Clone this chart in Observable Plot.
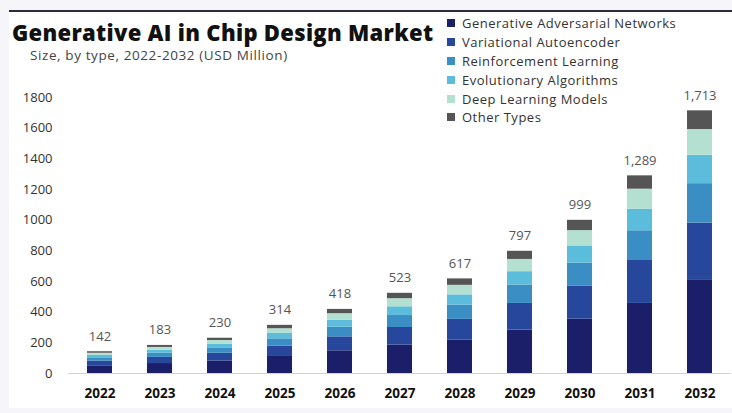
<!DOCTYPE html>
<html>
<head>
<meta charset="utf-8">
<script src="https://cdn.jsdelivr.net/npm/d3@7"></script>
<script src="https://cdn.jsdelivr.net/npm/@observablehq/plot@0.6"></script>
<style>
  html, body { margin: 0; padding: 0; background: #f5f5fa; }
  #wrap { position: relative; width: 732px; height: 413px; overflow: hidden; font-family: "Open Sans", sans-serif; }
  #panel { position: absolute; left: 9px; top: 10px; right: 0; bottom: 5px; background: #fff; border-top: 2px solid #2b2b3d; }
  #chart { position: absolute; left: 0; top: 0; }
  #title { position: absolute; left: 12px; top: 17px; font-size: 22px; font-weight: 800; color: #111; letter-spacing: 0.3px; white-space: nowrap; }
  #subtitle { position: absolute; left: 30px; top: 46px; font-size: 13.5px; letter-spacing: 0.6px; color: #444; white-space: nowrap; }
  #legend { position: absolute; left: 447px; top: 14px; font-size: 13px; letter-spacing: 0.5px; color: #333; }
  #legend .row { display: flex; align-items: center; height: 18.8px; white-space: nowrap; }
  #legend .sw { width: 8px; height: 8px; margin-right: 7px; }
</style>
</head>
<body>
<div id="wrap">
  <div id="panel"></div>
  <div id="chart"></div>
  <div id="title">Generative AI in Chip Design Market</div>
  <div id="subtitle">Size, by type, 2022-2032 (USD Million)</div>
  <div id="legend"></div>
</div>
<script>
const years = ["2022","2023","2024","2025","2026","2027","2028","2029","2030","2031","2032"];
const types = ["Generative Adversarial Networks","Variational Autoencoder","Reinforcement Learning","Evolutionary Algorithms","Deep Learning Models","Other Types"];
const colors = ["#1b1f6a","#27479c","#3a8ec3","#5bbcdc","#b4e0d2","#555555"];
const totals = [142,183,230,314,418,523,617,797,999,1289,1713];
const gan   = [50,65,82,111,148,186,219,283,354,457,607];
const vae   = [31,40,50,68,91,114,134,174,217,280,374];
const rl    = [21,27,35,47,63,78,93,120,149,194,257];
const evo   = [16,20,25,35,46,57,67,87,112,141,185];
const dl    = [14,18,23,31,42,53,62,80,100,130,168];
const other = [10,13,15,22,28,35,42,53,67,87,122];
const yTicks = [0,200,400,600,800,1000,1200,1400,1600,1800];

const series = [gan, vae, rl, evo, dl, other];
const rows = [];
series.forEach((vals, i) => vals.forEach((v, j) => rows.push({year: years[j], type: types[i], value: v})));
const totalRows = years.map((y, j) => ({year: y, total: totals[j]}));

const chart = Plot.plot({
  width: 732,
  height: 413,
  marginLeft: 68,
  marginRight: 1.5,
  marginTop: 97,
  marginBottom: 40,
  style: {background: "transparent", fontFamily: "Open Sans, sans-serif"},
  x: {domain: years, paddingInner: 0.588, paddingOuter: 0.3, label: null},
  y: {domain: [0, 1800], label: null},
  color: {domain: types, range: colors},
  marks: [
    Plot.axisY({ticks: yTicks, tickFormat: d => String(d), tickSize: 0, tickPadding: 16, fontSize: 13, fill: "#333", label: null}),
    Plot.axisX({tickSize: 0, tickPadding: 15, fontSize: 13.5, fontWeight: "bold", fill: "#111", label: null}),
    Plot.ruleY([0], {stroke: "#cfd2dc", strokeWidth: 1}),
    Plot.barY(rows, {x: "year", y: "value", fill: "type", order: types}),
    Plot.text(totalRows, {x: "year", y: "total", text: d => d3.format(",")(d.total), lineAnchor: "bottom", dy: -11, fontSize: 13, fill: "#555"})
  ]
});
document.getElementById("chart").appendChild(chart);

const legend = document.getElementById("legend");
types.forEach((t, i) => {
  const r = document.createElement("div");
  r.className = "row";
  r.innerHTML = `<span class="sw" style="background:${colors[i]}"></span><span>${t}</span>`;
  legend.appendChild(r);
});
</script>
</body>
</html>
